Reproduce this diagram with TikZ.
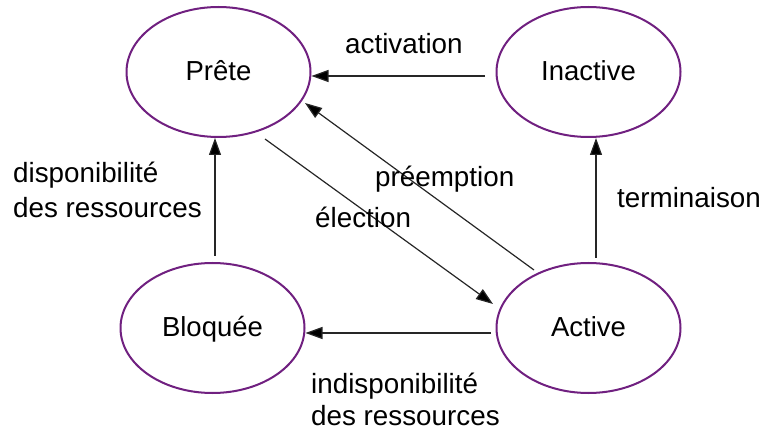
\documentclass[tikz,border=0pt]{standalone}
\usepackage{fontspec}
\setmainfont{Liberation Sans}
\usetikzlibrary{shapes.geometric,arrows.meta}
\definecolor{statepurple}{RGB}{112,32,128}
\begin{document}
\begin{tikzpicture}[x=1pt,y=-1pt,
  state/.style={ellipse,draw=statepurple,line width=2pt,
    minimum width=184pt,minimum height=130pt,inner sep=0pt,
    text height=18pt,text depth=0pt,
    font=\fontsize{27.5}{33}\selectfont},
  trans/.style={draw=black!85,line width=1.2pt,
    -{Triangle[length=17pt,width=12pt,fill=black]}},
  lbl/.style={inner sep=0pt,anchor=base west,align=left}]
\useasboundingbox (0,0) rectangle (763,430);

% states
\node[state] (pre) at (218.5,72)  {Prête};
\node[state] (ina) at (588.5,72)  {Inactive};
\node[state] (blo) at (212.5,328) {Bloquée};
\node[state] (act) at (588.5,328) {Active};

% transitions
\draw[trans] ([shift={(-10.5,4)}]ina.west) -- ([shift={(0,4)}]pre.east);
\draw[trans] ([shift={(2.5,-6)}]blo.north) -- ([shift={(-3.5,0)}]pre.south);
\draw[trans] ([shift={(7.5,-4)}]act.north) -- ([shift={(7.5,0)}]ina.south);
\draw[trans] ([shift={(-4.5,5)}]act.west) -- ([shift={(0,5)}]blo.east);
\draw[trans] ([shift={(46.5,67)}]pre.center) -- ([shift={(-95.5,-24)}]act.center);
\draw[trans] ([shift={(-54.5,-58)}]act.center) -- ([shift={(86.5,31)}]pre.center);

% transition labels (two-line labels are placed by their last baseline)
\node[lbl,font=\fontsize{27.8}{33}\selectfont] (lact) at (345,54) {activation};
\node[lbl,font=\fontsize{27.8}{35}\selectfont] (ldisp) at (13,218) {disponibilité\\des ressources};
\node[lbl,font=\fontsize{27.8}{33}\selectfont] (lterm) at (617,208) {terminaison};
\node[lbl,font=\fontsize{27.8}{33}\selectfont] (lpre) at (375,187) {préemption};
\node[lbl,font=\fontsize{27.8}{33}\selectfont] (lele) at (315,228) {élection};
\node[lbl,font=\fontsize{27.8}{32}\selectfont] (lind) at (311,425) {indisponibilité\\des ressources};
\end{tikzpicture}
\end{document}
